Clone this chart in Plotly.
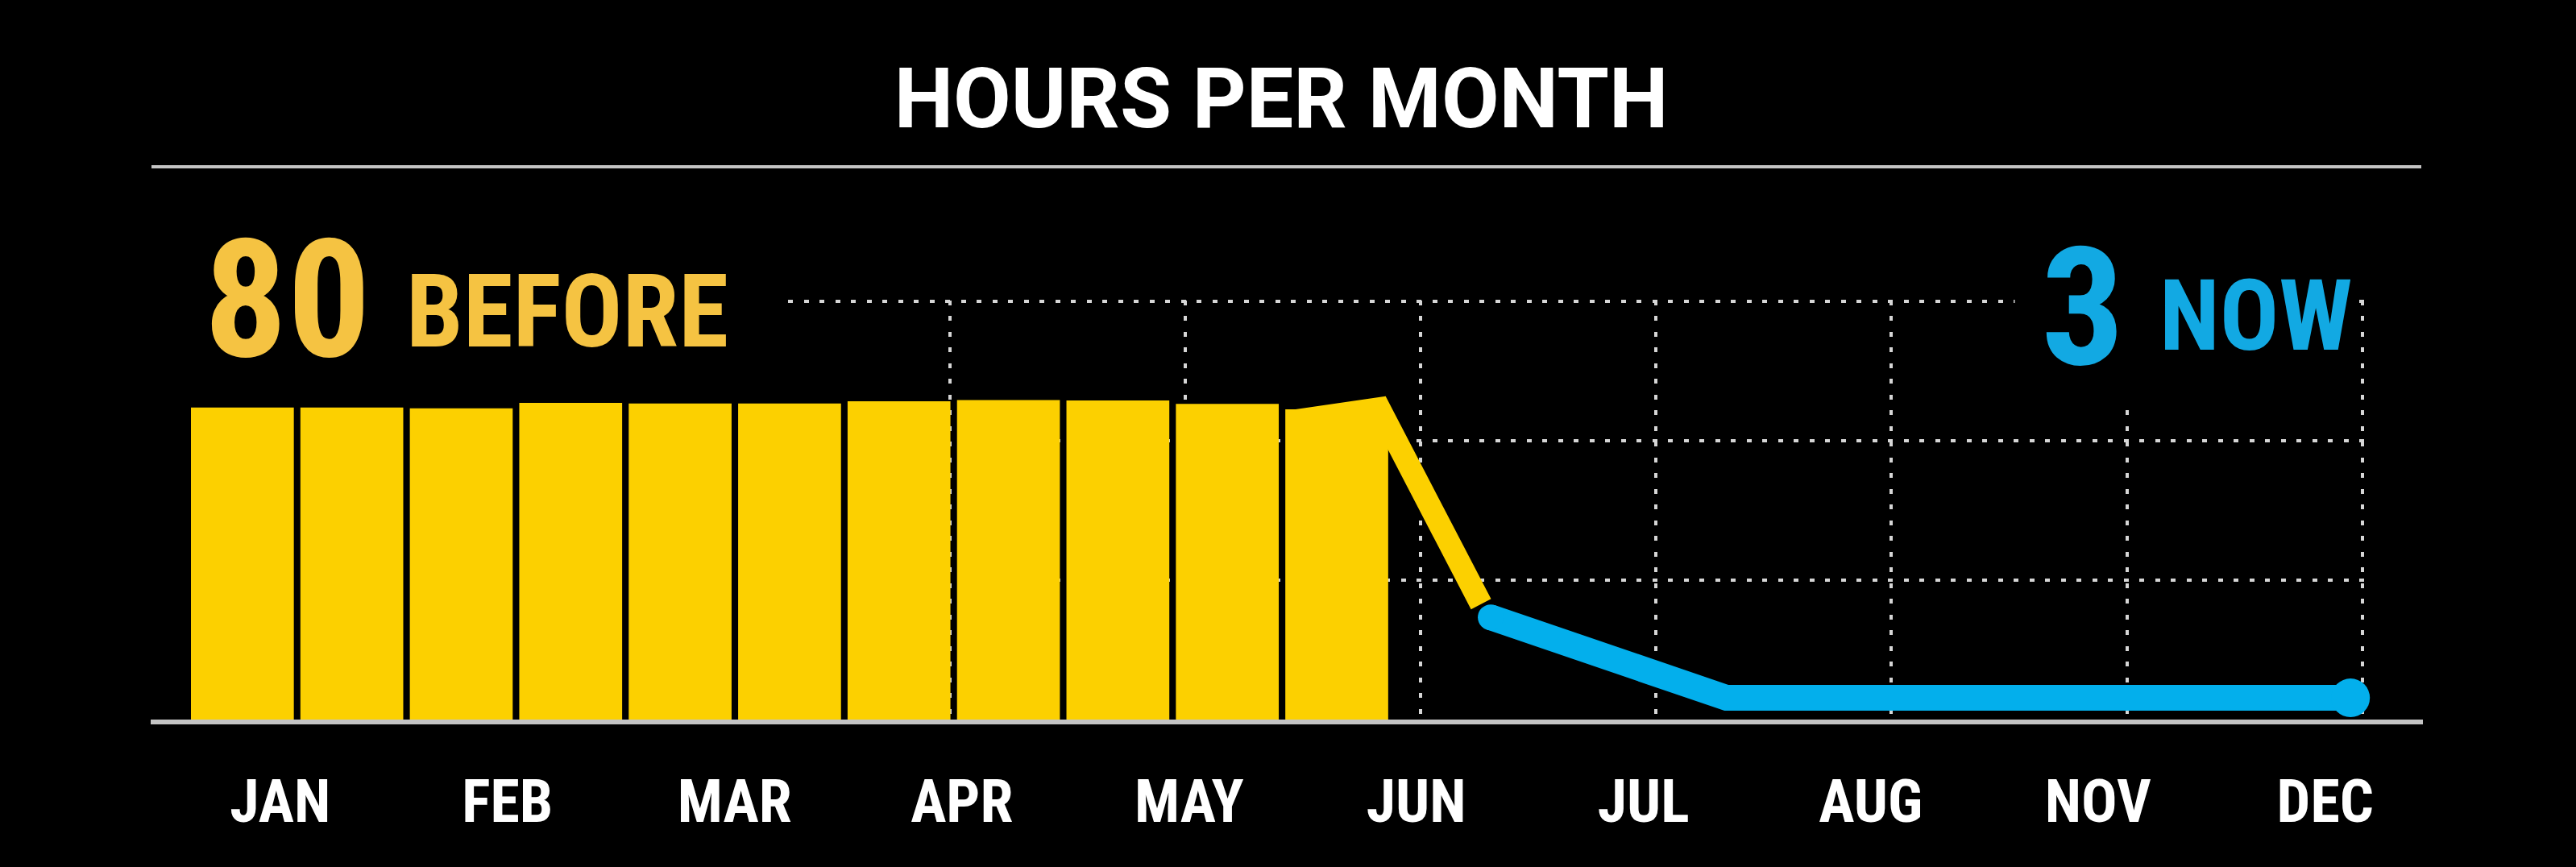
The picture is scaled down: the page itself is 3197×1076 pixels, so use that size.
import plotly.graph_objects as go

# ---------------- data ----------------
months = ["JAN", "FEB", "MAR", "APR", "MAY", "JUN", "JUL", "AUG", "NOV", "DEC"]
bar_periods = ["1", "2", "3", "4", "5", "6", "7", "8", "9", "10", "11"]
before_hours = [80.6, 80.6, 80.4, 81.8, 81.6, 81.6, 82.2, 82.5, 82.4, 81.5, 80.1]
drop_x = [4.47, 4.825, 5.257]
drop_y = [77.2, 80.3, 29.8]
now_x = [5.298, 6.30, 8.95]
now_y = [26.4, 5.6, 5.6]
grid_months = [3, 4, 5, 6, 7, 8, 9]
before_value = "80"
now_value = "3"

# ---------------- styles ----------------
W, H = 3197, 1076
BG = "#000000"
YELLOW = "#FCD000"
GOLD = "#F5C342"
BLUE = "#03AFEC"
BLUE_TXT = "#12A9E3"
GRID = "#d6d6d6"
RULE = "#c4c4c4"
COND = "Liberation Sans Narrow, Roboto Condensed, DejaVu Sans Condensed, Roboto, sans-serif"
BOLD = "Roboto, Liberation Sans, sans-serif"


def fx(px):
    return px / W


def fy(py):
    return 1 - py / H


X_RANGE = [-0.2225, 9.011]
Y_RANGE = [0, 108.3]
plot_dom_x = [fx(237), fx(2935)]
plot_dom_y = [fy(893), fy(372.56)]

fig = go.Figure()

# yellow drop + blue "now" line (main subplot)
fig.add_trace(go.Scatter(
    x=drop_x, y=drop_y, xaxis="x", yaxis="y", mode="lines",
    line=dict(color=YELLOW, width=28), hoverinfo="skip",
))
fig.add_trace(go.Scatter(
    x=now_x, y=now_y, xaxis="x", yaxis="y", mode="lines+markers",
    line=dict(color=BLUE, width=32),
    marker=dict(color=BLUE, size=[32, 0, 48], opacity=1, line=dict(width=0, color=BLUE)),
    hoverinfo="skip", cliponaxis=False,
))

# bars on an overlaid category axis (drawn above the grid and the line)
fig.add_trace(go.Bar(
    x=bar_periods, y=before_hours, xaxis="x2", yaxis="y",
    marker=dict(color=YELLOW, line=dict(width=0)), hoverinfo="skip",
))

# month label axis
fig.add_trace(go.Scatter(x=months, y=[None] * len(months), xaxis="x3", yaxis="y3",
                         mode="markers", hoverinfo="skip", showlegend=False))

fig.update_layout(
    width=W, height=H,
    margin=dict(l=0, r=0, t=0, b=0, pad=0),
    paper_bgcolor=BG, plot_bgcolor="rgba(0,0,0,0)",
    showlegend=False, hovermode=False,
    bargap=0.06,
    title=dict(text="HOURS PER MONTH", x=fx(1590), xanchor="center",
               y=fy(122), yanchor="middle", yref="container",
               font=dict(family=BOLD, size=104, color="#ffffff", weight="bold")),
    xaxis=dict(domain=plot_dom_x, range=X_RANGE, anchor="y",
               showgrid=True, gridcolor=GRID, gridwidth=4, griddash="6px,13.5px",
               tickmode="array", tickvals=grid_months,
               showticklabels=False, ticks="", zeroline=False, showline=False),
    yaxis=dict(domain=plot_dom_y, range=Y_RANGE, anchor="x",
               showgrid=True, gridcolor=GRID, gridwidth=4, griddash="6px,13.5px",
               tick0=0, dtick=36, showticklabels=False, ticks="", zeroline=False,
               showline=False),
    xaxis2=dict(overlaying="x", anchor="y", type="category",
                range=[-0.47, 19.395],
                showgrid=False, showticklabels=False, ticks="", zeroline=False,
                showline=False),
    xaxis3=dict(domain=[fx(187), fx(3007)], anchor="y3", type="category",
                categoryorder="array", categoryarray=months,
                range=[-0.57, 9.43], tickmode="array", tickvals=months, ticktext=months,
                showgrid=False, zeroline=False, showline=True, linecolor=RULE,
                linewidth=6, ticks="", ticklabelstandoff=32,
                tickfont=dict(family=COND, size=74, color="#ffffff", weight="bold")),
    yaxis3=dict(domain=[fy(893), fy(374)], range=[0, 1], anchor="x3",
                showgrid=False, showticklabels=False, ticks="", zeroline=False,
                showline=False),
)

# rule under the title
fig.add_shape(type="line", xref="paper", yref="paper",
              x0=fx(188), x1=fx(3005), y0=fy(207), y1=fy(207),
              line=dict(color=RULE, width=4))
# the top dotted rule only starts after the "BEFORE" label
fig.add_shape(type="rect", xref="paper", yref="paper", layer="above",
              x0=fx(225), x1=fx(966), y0=fy(392), y1=fy(366),
              fillcolor=BG, line=dict(width=0))

ann = [
    dict(text=before_value, x=fx(252), y=fy(372), size=205, color=GOLD, pad=0, h=None),
    dict(text="BEFORE", x=fx(503), y=fy(387), size=126, color=GOLD, pad=0, h=None),
    dict(text=now_value, x=fx(2500), y=fy(382), size=205, color=BLUE_TXT, pad=32, h=176),
    dict(text="NOW", x=fx(2674), y=fy(392), size=122, color=BLUE_TXT, pad=5, h=None),
]
for a in ann:
    fig.add_annotation(text=a["text"], xref="paper", yref="paper", x=a["x"], y=a["y"],
                       xanchor="left", yanchor="middle", showarrow=False,
                       bgcolor=BG, borderpad=a["pad"], height=a["h"],
                       font=dict(family=COND, size=a["size"], color=a["color"], weight="bold"))

fig.write_html("out.html", config={"displayModeBar": False},
               post_script="document.body.style.margin='0';document.body.style.overflow='hidden';")
